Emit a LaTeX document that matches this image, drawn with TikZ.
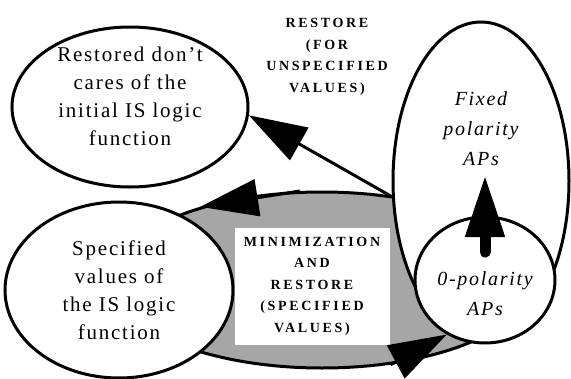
\documentclass[tikz,border=0pt]{standalone}
\usepackage{fontspec}
\setmainfont{Liberation Serif}
\newfontfamily\ovalfont{Liberation Serif}[LetterSpace=8.5]
\newfontfamily\capsfont{Liberation Serif}[LetterSpace=19]
\usetikzlibrary{shapes.geometric, arrows.meta}

\tikzset{
    oval/.style={ellipse, draw, line width=3pt, fill=white, inner sep=0pt},
    bodytext/.style={align=center, font=\ovalfont\fontsize{21}{28}\selectfont},
    slanttext/.style={align=center, font=\ovalfont\itshape\fontsize{20}{30}\selectfont},
    capstext/.style={align=center, font=\capsfont\bfseries\fontsize{14}{21.5}\selectfont},
    bigarrow/.style={line width=3pt, -{Triangle[length=58pt, width=37pt]}}
}

\begin{document}
\begin{tikzpicture}[x=1pt, y=-1pt]
                        \useasboundingbox (0,0) rectangle (571,378);

                        % ovals
                        \node[oval, fill=black!35, minimum width=420pt, minimum height=176pt] (minim) at (322,280) {};
                        \node[oval, bodytext, minimum width=228pt, minimum height=176pt] (spec) at (119,290) {Specified\\values of\\the IS logic\\function};
                        \node[oval, minimum width=236pt, minimum height=160pt,
                            label={[bodytext, yshift=11pt]center:Restored don’t\\cares of the\\initial IS logic\\function}] (restored) at (130,107) {};
                        \node[oval, minimum width=176pt, minimum height=318pt,
                            label={[slanttext, yshift=52pt]center:Fixed\\polarity\\APs}] (fixed) at (481,181) {};
                        \node[oval, minimum width=140pt, minimum height=126pt,
                            label={[slanttext, yshift=-14pt]center:0-polarity\\APs}] (zero) at (485,280) {};

                        \node[capstext, fill=white, minimum width=155pt, minimum height=117pt] (step) at (312,286) {MINIMIZATION\\AND\\RESTORE\\(SPECIFIED\\VALUES)};
                        \node[capstext] (restore) at (327,57) {RESTORE\\(FOR\\UNSPECIFIED\\VALUES)};

                        % arrows
                        \coordinate (stemtip) at (485,175);
                        \draw[bigarrow] (fixed.190) -- (restored.-4);
                        \draw[bigarrow] (minim.104) -- (minim.149);
                        \draw[bigarrow] (minim.-51) -- (zero.235);
                        \draw[line width=11pt, line cap=round, shorten <=28pt, -{Triangle[length=62pt, width=37pt]}] (zero.center) -- (stemtip);
                    \end{tikzpicture}
\end{document}
